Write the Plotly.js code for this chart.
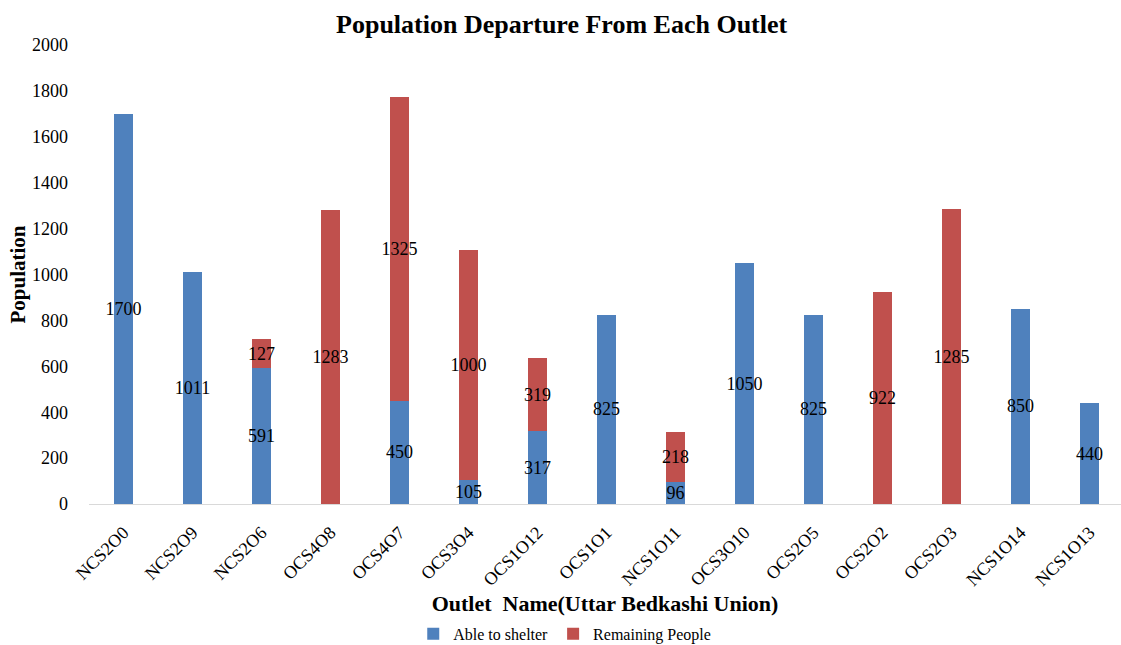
<!DOCTYPE html>
<html>
<head>
<meta charset="utf-8">
<script src="https://cdn.plot.ly/plotly-3.0.1.min.js"></script>
<style>html,body{margin:0;padding:0;background:#fff;}#chart{width:1121px;height:645px;}</style>
</head>
<body>
<div id="chart"></div>
<script>
const outlets = ["NCS2O0","NCS2O9","NCS2O6","OCS4O8","OCS4O7","OCS3O4","OCS1O12","OCS1O1","NCS1O11","OCS3O10","OCS2O5","OCS2O2","OCS2O3","NCS1O14","NCS1O13"];
const ableToShelter = [1700,1011,591,0,450,105,317,825,96,1050,825,0,0,850,440];
const remainingPeople = [0,0,127,1283,1325,1000,319,0,218,0,0,922,1285,0,0];

const serif = "'Liberation Serif', 'Times New Roman', serif";
const labelFont = {family: serif, size: 18, color: "#000"};
function labels(vals){ return vals.map(v => v ? String(v) : ""); }

const common = {
  type: "bar",
  x: outlets,
  width: 0.275,
  textposition: "inside",
  insidetextanchor: "middle",
  textangle: 0,
  constraintext: "none",
  cliponaxis: false,
  textfont: labelFont,
  insidetextfont: labelFont,
  hoverinfo: "skip"
};

const traces = [
  Object.assign({}, common, {name: "Able to shelter", y: ableToShelter, text: labels(ableToShelter), marker: {color: "#4F81BD"}}),
  Object.assign({}, common, {name: "Remaining People", y: remainingPeople, text: labels(remainingPeople), marker: {color: "#C0504D"}})
];

const layout = {
  width: 1121, height: 645,
  margin: {l: 89, r: 0, t: 45, b: 141, autoexpand: false},
  paper_bgcolor: "#fff", plot_bgcolor: "#fff",
  barmode: "stack",
  showlegend: true,
  font: {family: serif},
  title: {text: "<b>Population Departure From Each Outlet</b>", x: 0.501, xanchor: "center", y: 0.963, yanchor: "middle", font: {family: serif, size: 26, color: "#000"}},
  xaxis: {
    range: [-0.5, 14.457],
    automargin: false,
    tickangle: -45,
    tickfont: {family: serif, size: 18, color: "#000"},
    ticklabelstandoff: 10,
    showgrid: false, zeroline: false,
    showline: true, linecolor: "#D9D9D9", linewidth: 1,
    ticks: "",
    title: {text: "<b>Outlet  Name(Uttar Bedkashi Union)</b>", font: {family: serif, size: 22, color: "#000"}, standoff: 6}
  },
  yaxis: {
    range: [0, 2000],
    automargin: false,
    dtick: 200,
    tickfont: {family: serif, size: 18, color: "#000"},
    showgrid: false, zeroline: false, showline: false,
    ticks: "",
    ticklabelstandoff: 20,
    title: {text: "<b>Population</b>", font: {family: serif, size: 21, color: "#000"}, standoff: 0}
  },
  legend: {
    orientation: "h", x: 0.461, xanchor: "center", y: -0.283, yanchor: "middle",
    font: {family: serif, size: 16, color: "#000"},
    traceorder: "normal", itemwidth: 30
  }
};

Plotly.newPlot("chart", traces, layout, {displayModeBar: false, staticPlot: true});
</script>
</body>
</html>
